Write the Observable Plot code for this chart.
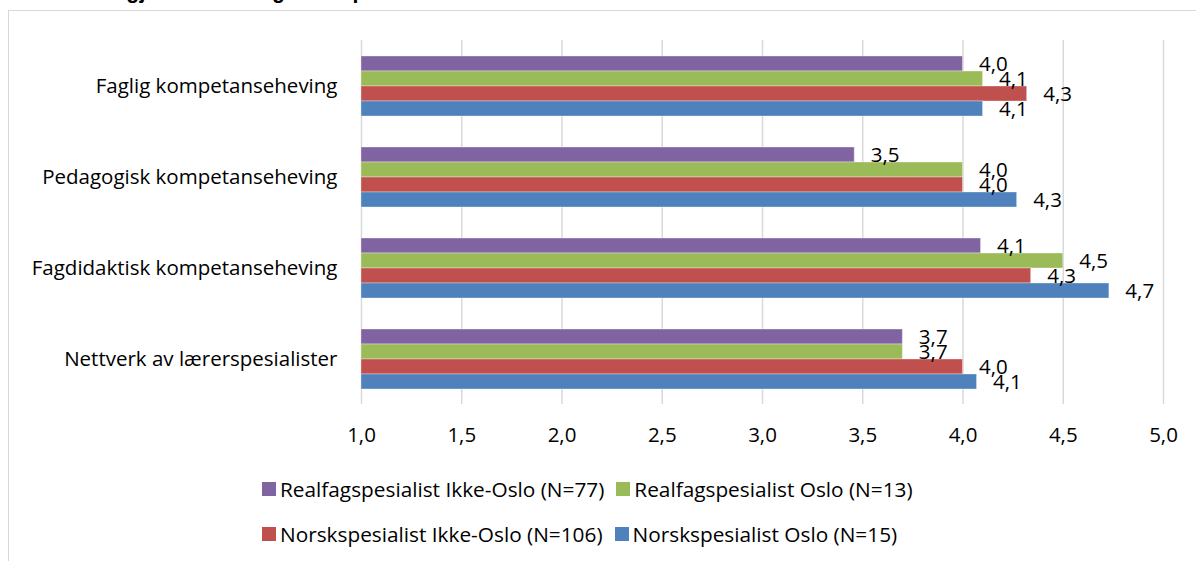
<!DOCTYPE html>
<html>
<head>
<meta charset="utf-8">
<script src="https://cdn.jsdelivr.net/npm/d3@7"></script>
<script src="https://cdn.jsdelivr.net/npm/@observablehq/plot@0.6"></script>
<style>
  body { margin: 0; background: #fff; }
  #wrap { position: relative; width: 1196px; height: 561px; overflow: hidden; background: #fff; }
  #title { position: absolute; left: 8px; top: -21px; font: bold 21.3px "Liberation Sans", Arial, sans-serif; color: #000; white-space: nowrap; }
  #frame { position: absolute; left: 8px; top: 10px; width: 1400px; height: 800px; border: 1.5px solid #d9d9d9; box-sizing: border-box; }
  #chart { position: absolute; left: 0; top: 0; }
  .legend-row { position: absolute; left: 262px; display: flex; align-items: center; font: 20.8px "Open Sans", sans-serif; color: #000; white-space: nowrap; }
  .legend-item { display: flex; align-items: center; margin-right: 12px; }
  .sw { width: 14px; height: 14px; margin-right: 4px; }
</style>
</head>
<body>
<div id="wrap">
  <div id="title">aktiviteter i gjennomsnittlig skåre på skalaen 1-5.</div>
  <div id="frame"></div>
  <div id="chart"></div>
  <div id="leg1" class="legend-row" style="top:475px"></div>
  <div id="leg2" class="legend-row" style="top:520px"></div>
</div>
<script>
const categories = [
  "Faglig kompetanseheving",
  "Pedagogisk kompetanseheving",
  "Fagdidaktisk kompetanseheving",
  "Nettverk av lærerspesialister"
];
const series = [
  "Realfagspesialist Ikke-Oslo (N=77)",
  "Realfagspesialist Oslo (N=13)",
  "Norskspesialist Ikke-Oslo (N=106)",
  "Norskspesialist Oslo (N=15)"
];
const colors = ["#8064A2", "#9BBB59", "#C0504D", "#4F81BD"];
const realfagIkkeOslo = [4.00, 3.46, 4.09, 3.70];
const realfagOslo     = [4.10, 4.00, 4.50, 3.70];
const norskIkkeOslo   = [4.32, 4.00, 4.34, 4.00];
const norskOslo       = [4.10, 4.27, 4.73, 4.07];
const xTicks = [1.0, 1.5, 2.0, 2.5, 3.0, 3.5, 4.0, 4.5, 5.0];
const xMin = 1, xMax = 5;

const seriesValues = [realfagIkkeOslo, realfagOslo, norskIkkeOslo, norskOslo];
const data = [];
categories.forEach((c, i) => {
  series.forEach((s, j) => data.push({category: c, series: s, value: seriesValues[j][i]}));
});
const fmt = v => d3.format(".1f")(v).replace(".", ",");

const chart = Plot.plot({
  width: 1196,
  height: 455,
  marginLeft: 361,
  marginRight: 33,
  marginTop: 38,
  marginBottom: 50,
  style: {fontFamily: "'Open Sans', sans-serif", fontSize: "20.5px", color: "#000", background: "transparent"},
  x: {domain: [xMin, xMax], axis: null},
  y: {domain: series, paddingInner: 0, paddingOuter: 0.92, axis: null},
  fy: {domain: categories, padding: 0, axis: null},
  color: {domain: series, range: colors},
  marks: [
    Plot.ruleX(xTicks, {stroke: "#d9d9d9", strokeWidth: 1.5}),
    Plot.barX(data, {x1: () => xMin, x2: "value", y: "series", fy: "category", fill: "series", stroke: "#ffffff", strokeOpacity: 0.35, strokeWidth: 1}),
    Plot.text(data, {x: "value", y: "series", fy: "category", text: d => fmt(d.value), dx: 16, textAnchor: "start", fill: "#000", fontSize: 20.5}),
    Plot.axisFy({anchor: "left", tickSize: 0, tickPadding: 24, label: null, fontSize: 20.5}),
    Plot.axisX(xTicks, {anchor: "bottom", tickSize: 0, tickPadding: 23, tickFormat: fmt, label: null, fontSize: 20.5})
  ]
});
document.getElementById("chart").appendChild(chart);

function legendItem(i) {
  const d = document.createElement("div");
  d.className = "legend-item";
  const sw = document.createElement("span");
  sw.className = "sw";
  sw.style.background = colors[i];
  const t = document.createElement("span");
  t.textContent = series[i];
  d.appendChild(sw); d.appendChild(t);
  return d;
}
document.getElementById("leg1").appendChild(legendItem(0));
document.getElementById("leg1").appendChild(legendItem(1));
document.getElementById("leg2").appendChild(legendItem(2));
document.getElementById("leg2").appendChild(legendItem(3));
</script>
</body>
</html>
